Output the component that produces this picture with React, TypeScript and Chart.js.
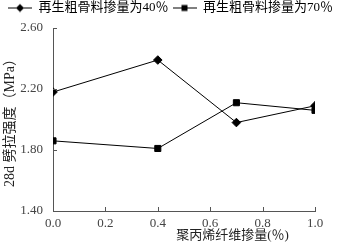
import React, { useEffect, useRef } from "react";
import { Chart, registerables } from "chart.js";

Chart.register(...registerables);

const fiberContent = [0.0, 0.4, 0.7, 1.0];
const rca40 = [2.18, 2.39, 1.98, 2.09];
const rca70 = [1.86, 1.81, 2.11, 2.06];
const seriesNames = ["再生粗骨料掺量为40％", "再生粗骨料掺量为70％"];
const xTitle = "聚丙烯纤维掺量(％)";
const yTitle = "28d 劈拉强度（MPa）";

const FONT = "'Liberation Serif', 'Noto Sans CJK SC', serif";
const TEXT = "#444";
const AXIS = "#555";

function legendIcon(style: "diamond" | "square") {
  const c = document.createElement("canvas");
  c.width = 24;
  c.height = 10;
  const ctx = c.getContext("2d")!;
  ctx.strokeStyle = "#000";
  ctx.lineWidth = 1;
  ctx.beginPath();
  ctx.moveTo(0, 5.5);
  ctx.lineTo(24, 5.5);
  ctx.stroke();
  ctx.fillStyle = "#000";
  if (style === "diamond") {
    ctx.beginPath();
    ctx.moveTo(12, 1.5);
    ctx.lineTo(16, 5.5);
    ctx.lineTo(12, 9.5);
    ctx.lineTo(8, 5.5);
    ctx.closePath();
    ctx.fill();
  } else {
    ctx.fillRect(9, 2.5, 6, 6);
  }
  return c;
}

export default function App() {
  const ref = useRef<HTMLCanvasElement>(null);
  useEffect(() => {
    const icons = [legendIcon("diamond"), legendIcon("square")];
    const inwardTicks = {
      id: "inwardTicks",
      afterDatasetsDraw(chart: any) {
        const { ctx, scales } = chart;
        const x = scales.x;
        const y = scales.y;
        ctx.save();
        ctx.strokeStyle = AXIS;
        ctx.lineWidth = 1;
        ctx.beginPath();
        x.ticks.forEach((t: any) => {
          const px = Math.round(x.getPixelForValue(t.value)) + 0.5;
          ctx.moveTo(px, y.bottom);
          ctx.lineTo(px, y.bottom - 4);
        });
        y.ticks.forEach((t: any) => {
          const py = Math.round(y.getPixelForValue(t.value)) + 0.5;
          ctx.moveTo(x.left, py);
          ctx.lineTo(x.left + 4, py);
        });
        ctx.stroke();
        ctx.fillStyle = "#222";
        ctx.font = `13px ${FONT}`;
        ctx.textAlign = "center";
        ctx.textBaseline = "middle";
        ctx.fillText(xTitle, x.getPixelForValue(0.685), 236);
        ctx.restore();
      },
    };
    const legendPatch = {
      id: "legendPatch",
      beforeInit(chart: any) {
        const lg = chart.legend;
        const origFit = lg.fit;
        lg.fit = function () {
          origFit.call(this);
          this.height = 28;
        };
        const origDraw = lg.draw;
        lg.draw = function () {
          const ctx = this.ctx;
          ctx.save();
          ctx.translate(0, -3);
          origDraw.call(this);
          ctx.restore();
        };
      },
    };
    const chart = new Chart(ref.current!, {
      type: "line",
      data: {
        datasets: [
          {
            label: seriesNames[0],
            data: fiberContent.map((x, i) => ({ x, y: rca40[i] })),
            borderColor: "#000",
            backgroundColor: "#000",
            borderWidth: 1,
            pointStyle: "rectRot",
            pointRadius: 4.3,
            pointHoverRadius: 4.3,
          },
          {
            label: seriesNames[1],
            data: fiberContent.map((x, i) => ({ x, y: rca70[i] })),
            borderColor: "#000",
            backgroundColor: "#000",
            borderWidth: 1,
            pointStyle: "rect",
            pointRadius: 4.3,
            pointHoverRadius: 4.3,
          },
        ],
      },
      options: {
        animation: false,
        responsive: false,
        events: [],
        layout: { padding: 0 },
        plugins: {
          tooltip: { enabled: false },
          legend: {
            display: true,
            position: "top",
            labels: {
              color: "#222",
              font: { family: FONT, size: 13 },
              usePointStyle: true,
              pointStyleWidth: 24,
              padding: 4,
              generateLabels: () =>
                seriesNames.map((n, i) => ({
                  text: n,
                  pointStyle: icons[i] as any,
                  fillStyle: "#000",
                  strokeStyle: "#000",
                  lineWidth: 0,
                  datasetIndex: i,
                  hidden: false,
                })),
            },
          },
        },
        scales: {
          x: {
            type: "linear",
            min: 0,
            max: 1,
            afterFit: (s: any) => {
              s.height = 33;
              s.paddingRight = 26;
            },
            ticks: {
              stepSize: 0.2,
              color: TEXT,
              font: { family: FONT, size: 13 },
              padding: 5,
              maxRotation: 0,
              callback: (v: any) => Number(v).toFixed(1),
            },
            grid: { display: true, drawOnChartArea: false, drawTicks: false, color: AXIS },
            border: { display: true, color: AXIS, width: 1 },
          },
          y: {
            min: 1.4,
            max: 2.6,
            afterFit: (s: any) => {
              s.width = 53;
            },
            ticks: {
              stepSize: 0.4,
              color: TEXT,
              font: { family: FONT, size: 13 },
              padding: 10,
              callback: (v: any) => Number(v).toFixed(2),
            },
            grid: { display: true, drawOnChartArea: false, drawTicks: false, color: AXIS },
            border: { display: true, color: AXIS, width: 1 },
            title: {
              display: true,
              text: yTitle,
              color: "#222",
              font: { family: FONT, size: 14 },
              padding: { top: 2, bottom: 0 },
            },
          },
        },
      },
      plugins: [inwardTicks, legendPatch],
    });
    return () => chart.destroy();
  }, []);
  return (
    <div style={{ position: "fixed", left: 0, top: 0, width: 341, height: 244, background: "#fff" }}>
      <canvas ref={ref} width={341} height={244} style={{ display: "block" }} />
    </div>
  );
}
